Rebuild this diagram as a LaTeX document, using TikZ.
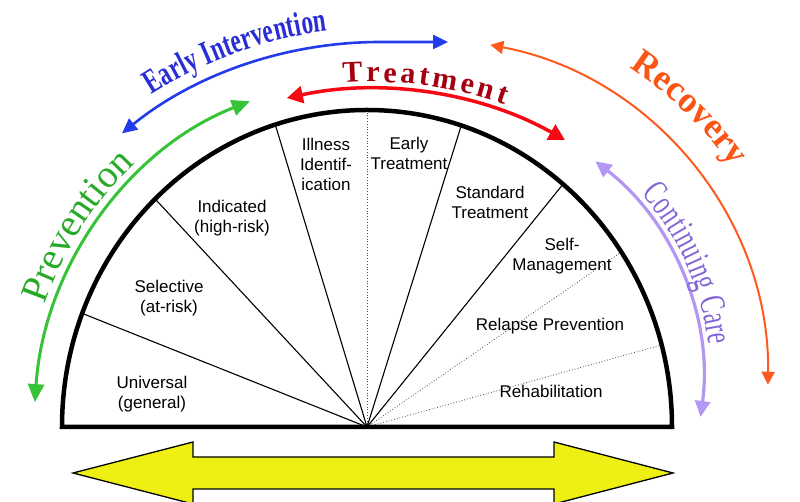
\documentclass[tikz,border=0pt]{standalone}
\usepackage{fontspec}
\setmainfont{Liberation Sans}
\newfontfamily\serifA{Liberation Serif}
\newfontfamily\serifC[FakeStretch=0.68]{Liberation Serif}
\newfontfamily\serifCC[FakeStretch=0.66]{Liberation Serif}
\usetikzlibrary{arrows.meta,decorations.text}
\definecolor{cGreen}{RGB}{55,195,55}
\definecolor{cBlue}{RGB}{35,60,235}
\definecolor{cRed}{RGB}{245,10,20}
\definecolor{cOrange}{RGB}{255,90,30}
\definecolor{cPurple}{RGB}{180,150,245}
\definecolor{tGreen}{RGB}{40,170,40}
\definecolor{tBlue}{RGB}{40,45,215}
\definecolor{tRed}{RGB}{165,0,15}
\definecolor{tOrange}{RGB}{250,85,20}
\definecolor{tPurple}{RGB}{130,100,215}
\definecolor{cYellow}{RGB}{238,240,20}
\begin{document}
\begin{tikzpicture}[x=1pt,y=1pt,
  lbl/.style={align=center, font=\fontsize{17}{20}\selectfont, inner sep=0pt},
  sepline/.style={line width=1.1pt},
  sepdot/.style={line width=0.8pt, dotted, black!70},
  rim/.style={line width=4.5pt},
  yarrow/.style={fill=cYellow, draw=black, line width=1.3pt, line join=miter},
  curvtext/.style={decorate, decoration={text along path, text align={fit to path}, text={#1}}}
]
\useasboundingbox[fill=white] (0,0) rectangle (800,502);
\coordinate (O) at (367,75);
\foreach \n/\a in {a/159,b/134,c/107.5,d/90,e/72,f/50,g/33.5,h/15}
  \path (O) ++(\a:305 and 317) coordinate (p\n);

% separators
\draw[sepline] (O) -- (pa);
\draw[sepline] (O) -- (pb);
\draw[sepline] (O) -- (pc);
\draw[sepdot] (O) -- (pd);
\draw[sepline] (O) -- (pe);
\draw[sepline] (O) -- (pf);
\draw[sepdot] (O) -- (pg);
\draw[sepdot] (O) -- (ph);

% rim
\draw[rim] (O) ++(-305,0) arc[start angle=180, end angle=0, x radius=305, y radius=317] -- cycle;

% labels
\node[lbl] (universal) at (152,108) {Universal\\(general)};
\node[lbl] (selective) at (169,204) {Selective\\(at-risk)};
\node[lbl] (indicated) at (232,284) {Indicated\\(high-risk)};
\node[lbl] (illness) at (326,338) {Illness\\Identif-\\ication};
\node[lbl] (earlytr) at (409,349) {Early\\Treatment};
\node[lbl] (stdtr) at (490,300) {Standard\\Treatment};
\node[lbl] (selfm) at (562,246) {Self-\\Management};
\node[lbl] (relapse) at (550,176) {Relapse Prevention};
\node[lbl] (rehab) at (551,111) {Rehabilitation};

% arrows
\draw[cGreen, line width=3pt, {Triangle[length=18pt,width=16pt]}-{Triangle[length=18pt,width=16pt]}]
  (O) ++(175.9:333 and 348) arc[start angle=175.9, end angle=110.6, x radius=333, y radius=348];
\coordinate (BC) at (380,50);
\draw[cBlue, line width=2.6pt, {Triangle[length=15pt,width=14pt]}-{Triangle[length=15pt,width=14pt]}]
  (BC) ++(129:410) arc[start angle=129, end angle=90, radius=410] -- ++(68,0);
\coordinate (RC) at (371,18);
\draw[cRed, line width=3.5pt, {Triangle[length=16pt,width=17pt]}-{Triangle[length=16pt,width=17pt]}]
  (RC) ++(102.3:395) arc[start angle=102.3, end angle=60.6, radius=395];
\coordinate (QC) at (427,122);
\draw[cOrange, line width=2pt, {Triangle[length=13pt,width=13pt]}-{Triangle[length=13pt,width=13pt]}]
  (QC) ++(79.3:341) arc[start angle=79.3, end angle=-0.8, radius=341];
\draw[cPurple, line width=3.2pt, {Triangle[length=16pt,width=15pt]}-{Triangle[length=16pt,width=15pt]}]
  (QC) ++(52.4:276) arc[start angle=52.4, end angle=-7.7, radius=276];

% curved texts
\path[curvtext={|\fontsize{39}{41}\selectfont\serifA\color{tGreen}|Prevention}]
  (O) ++(160:343 and 358) arc[start angle=160, end angle=133, x radius=343, y radius=358];
\path[curvtext={|\fontsize{34}{36}\selectfont\serifC\bfseries\color{tBlue}|Early Intervention}]
  (BC) ++(122.6:424) arc[start angle=122.6, end angle=97.1, radius=424];
\path[curvtext={|\fontsize{30}{32}\selectfont\serifA\bfseries\color{tRed}|Treatment}]
  (RC) ++(94:402) arc[start angle=94, end angle=70.6, radius=402];
\path[curvtext={|\fontsize{36}{38}\selectfont\serifA\bfseries\color{tOrange}|Recovery}]
  (QC) ++(57:372) arc[start angle=57, end angle=35, radius=372];
\path[curvtext={|\fontsize{36}{38}\selectfont\serifCC\color{tPurple}|Continuing Care}]
  (QC) ++(41:284) arc[start angle=41, end angle=7, radius=284];

% yellow double arrow
\draw[yarrow] (73,29) -- (193,60) -- (193,45) -- (554,45) -- (554,60) -- (673,29)
  -- (554,-2) -- (554,13) -- (193,13) -- (193,-2) -- cycle;
\end{tikzpicture}
\end{document}
